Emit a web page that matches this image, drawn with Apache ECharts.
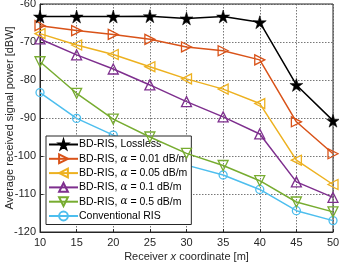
<!DOCTYPE html>
<html><head><meta charset="utf-8">
<script src="https://cdn.jsdelivr.net/npm/echarts@6/dist/echarts.min.js"></script>
<style>html,body{margin:0;padding:0;background:#fff}#c{width:339px;height:266px}</style>
</head><body><div id="c"></div>
<script>
const xValues = [10, 15, 20, 25, 30, 35, 40, 45, 50];
const seriesNames = ['BD-RIS, Lossless', 'BD-RIS, α = 0.01 dB/m', 'BD-RIS, α = 0.05 dB/m', 'BD-RIS, α = 0.1 dB/m', 'BD-RIS, α = 0.5 dB/m', 'Conventional RIS'];
const lossless = [-63.3, -63.3, -63.3, -63.2, -63.8, -63.3, -64.8, -81.3, -90.7];
const alpha001 = [-65.7, -67.0, -68.0, -69.3, -71.3, -72.3, -74.7, -91.0, -99.4];
const alpha005 = [-67.8, -70.8, -73.3, -76.5, -79.7, -82.4, -86.2, -101.1, -107.5];
const alpha01 = [-69.2, -73.4, -77.1, -81.3, -85.7, -89.7, -94.2, -106.8, -110.9];
const alpha05 = [-75.2, -83.5, -90.3, -95.0, -99.3, -102.5, -106.5, -112.1, -114.7];
const conventional = [-83.3, -90.1, -94.5, -98.8, -102.4, -105.0, -108.8, -114.4, -117.0];
const yTicks = [-120, -110, -100, -90, -80, -70, -60];

const colors = ['#000000', '#D95319', '#EDB120', '#7E2F8E', '#77AC30', '#4DBEEE'];
const star = 'path://M50,0 L61,35 L98,35 L68,57 L79,91 L50,70 L21,91 L32,57 L2,35 L39,35 Z';
const markers = [
  {symbol: star, size: 13, rotate: 0, filled: true},
  {symbol: 'triangle', size: 10, rotate: -90},
  {symbol: 'triangle', size: 10, rotate: 90},
  {symbol: 'triangle', size: 10, rotate: 0},
  {symbol: 'triangle', size: 10, rotate: 180},
  {symbol: 'circle', size: 8, rotate: 0}
];
const allData = [lossless, alpha001, alpha005, alpha01, alpha05, conventional];

const series = allData.map((vals, i) => ({
  name: seriesNames[i],
  type: 'line',
  data: xValues.map((x, j) => [x, vals[j]]),
  symbol: markers[i].symbol,
  symbolSize: markers[i].size,
  symbolRotate: markers[i].rotate,
  showAllSymbol: true,
  lineStyle: {color: colors[i], width: 1.5},
  itemStyle: markers[i].filled ? {color: colors[i], borderColor: colors[i], borderWidth: 0.5}
                               : {color: 'rgba(255,255,255,0)', borderColor: colors[i], borderWidth: 1.3},
  emphasis: {disabled: true},
  animation: false,
  z: 2 + (6 - i)
}));

const chart = echarts.init(document.getElementById('c'), null, {renderer: 'canvas'});
const fontFam = "'Liberation Sans', Arial, sans-serif";
chart.setOption({
  animation: false,
  textStyle: {fontFamily: fontFam},
  grid: {left: 40, right: 6, top: 4, bottom: 34, show: true, borderColor: '#262626', borderWidth: 1, backgroundColor: '#fff', outerBoundsMode: 'none', containLabel: false},
  xAxis: {
    type: 'value', min: 10, max: 50, interval: 5,
    name: 'Receiver {i|x} coordinate [m]', nameLocation: 'middle', nameGap: 19, nameMoveOverlap: false,
    nameTextStyle: {fontSize: 11, color: '#262626', fontFamily: fontFam, rich: {i: {fontStyle: 'italic', fontSize: 11, color: '#262626', fontFamily: fontFam}}},
    axisLine: {lineStyle: {color: '#262626', width: 1}},
    axisTick: {inside: true, length: 3, lineStyle: {color: '#262626'}},
    axisLabel: {fontSize: 11, color: '#262626', margin: 5, fontFamily: fontFam},
    splitLine: {show: true, lineStyle: {color: '#555', type: [1.5, 1.5], width: 0.8}}
  },
  yAxis: {
    type: 'value', min: -120, max: -60, interval: 10,
    name: 'Average received signal power [dBW]', nameLocation: 'middle', nameGap: 25, nameMoveOverlap: false,
    nameTextStyle: {fontSize: 11, color: '#262626', fontFamily: fontFam},
    axisLine: {show: true, lineStyle: {color: '#262626', width: 1}},
    axisTick: {show: true, inside: true, length: 3, lineStyle: {color: '#262626'}},
    axisLabel: {fontSize: 11, color: '#262626', margin: 4, fontFamily: fontFam},
    splitLine: {show: true, lineStyle: {color: '#555', type: [1.5, 1.5], width: 0.8}}
  },
  legend: {
    orient: 'vertical', left: 46, top: 136,
    data: seriesNames,
    backgroundColor: '#fff', borderColor: '#262626', borderWidth: 1,
    padding: [3, 4, 3, 2], itemGap: 3.3, itemWidth: 29, itemHeight: 11,
    formatter: n => n.replace('α', '{a|α}'),
    textStyle: {fontSize: 10.5, color: '#000', fontFamily: fontFam, padding: [0, 0, 0, -4],
      rich: {a: {fontStyle: 'italic', fontFamily: "'DejaVu Serif', serif", fontSize: 10.5, color: '#000'}}},
    selectedMode: false
  },
  series: series
});
</script></body></html>
